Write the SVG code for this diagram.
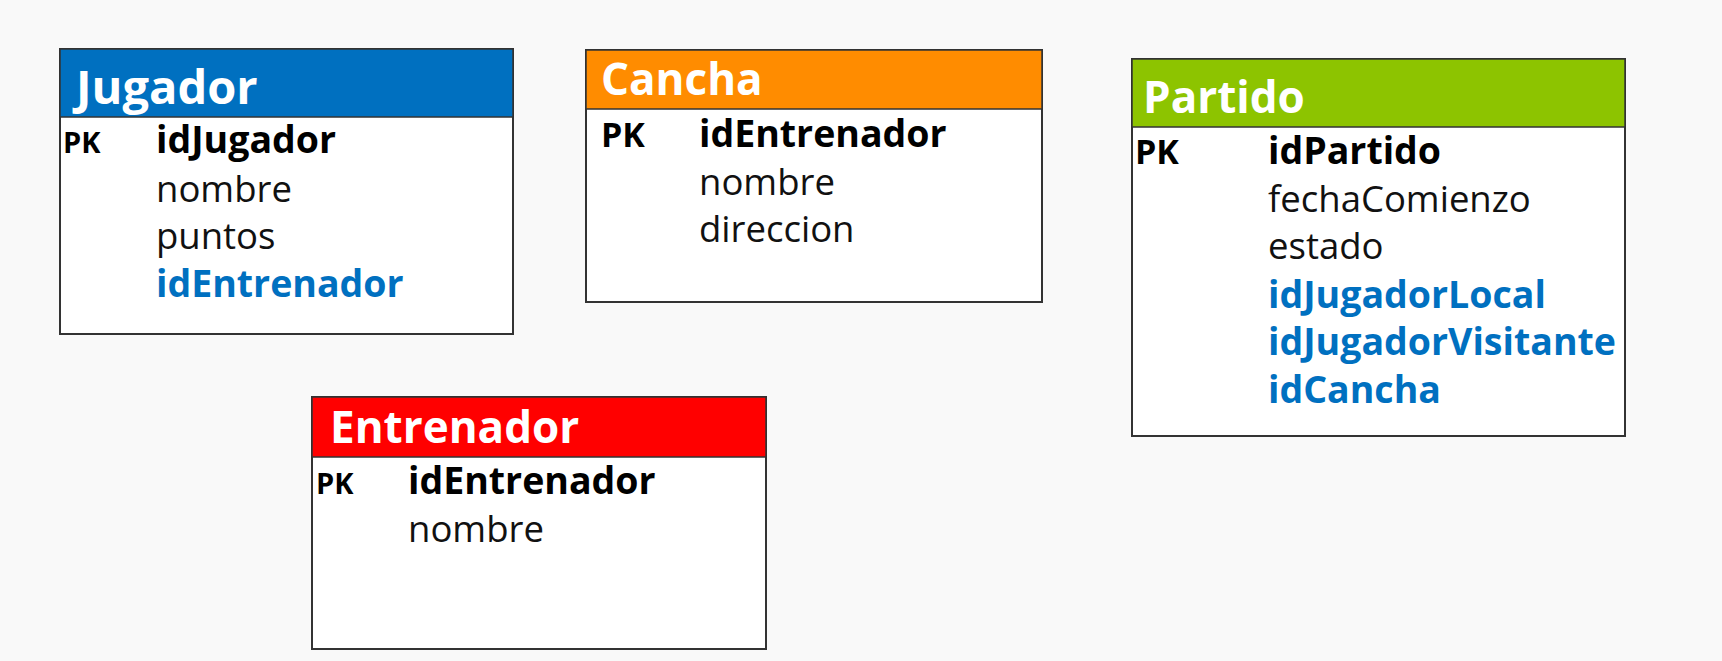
<svg xmlns="http://www.w3.org/2000/svg" width="1722" height="661" viewBox="0 0 1722 661">
<style>
.bg{fill:#f9f9f9}
.box{fill:#ffffff;stroke:#333333;stroke-width:2}
.hdr{stroke:#333333;stroke-width:1.5}
.title{font-family:"Open Sans","Noto Sans",sans-serif;font-weight:700;font-size:44px;fill:#ffffff}
.pk{font-family:"Open Sans","Noto Sans",sans-serif;font-weight:700;font-size:29px;fill:#000000}
.f{font-family:"Open Sans","Noto Sans",sans-serif;font-size:36.5px;fill:#111111}
.fb{font-weight:700;font-size:37.5px;fill:#000000}
.fk{font-weight:700;font-size:37.5px;fill:#0070c0}
</style>
<rect class="bg" x="0" y="0" width="1722" height="661"/>
<g id="jugador">
<rect class="box" x="60" y="49" width="453" height="285"/>
<rect class="hdr" x="60" y="49" width="453" height="68" fill="#0070c0"/>
<text class="title" x="76" y="104" style="font-size:47px">Jugador</text>
<text class="pk" x="63" y="153">PK</text>
<text class="f fb" x="156" y="153">idJugador</text>
<text class="f" x="156" y="202">nombre</text>
<text class="f" x="156" y="249">puntos</text>
<text class="f fk" x="156" y="297">idEntrenador</text>
</g>
<g id="cancha">
<rect class="box" x="586" y="50" width="456" height="252"/>
<rect class="hdr" x="586" y="50" width="456" height="59" fill="#ff8c00"/>
<text class="title" x="601" y="95">Cancha</text>
<text class="pk" x="601" y="147" style="font-size:34px">PK</text>
<text class="f fb" x="699" y="147">idEntrenador</text>
<text class="f" x="699" y="195">nombre</text>
<text class="f" x="699" y="242">direccion</text>
</g>
<g id="partido">
<rect class="box" x="1132" y="59" width="493" height="377"/>
<rect class="hdr" x="1132" y="59" width="493" height="68" fill="#8dc400"/>
<text class="title" x="1143" y="113">Partido</text>
<text class="pk" x="1135" y="164" style="font-size:34px">PK</text>
<text class="f fb" x="1268" y="164">idPartido</text>
<text class="f" x="1268" y="212">fechaComienzo</text>
<text class="f" x="1268" y="259">estado</text>
<text class="f fk" x="1268" y="308">idJugadorLocal</text>
<text class="f fk" x="1268" y="355">idJugadorVisitante</text>
<text class="f fk" x="1268" y="403">idCancha</text>
</g>
<g id="entrenador">
<rect class="box" x="312" y="397" width="454" height="252"/>
<rect class="hdr" x="312" y="397" width="454" height="60" fill="#ff0000"/>
<text class="title" x="330" y="443">Entrenador</text>
<text class="pk" x="316" y="494">PK</text>
<text class="f fb" x="408" y="494">idEntrenador</text>
<text class="f" x="408" y="542">nombre</text>
</g>
<g id="connectors"></g>
</svg>
